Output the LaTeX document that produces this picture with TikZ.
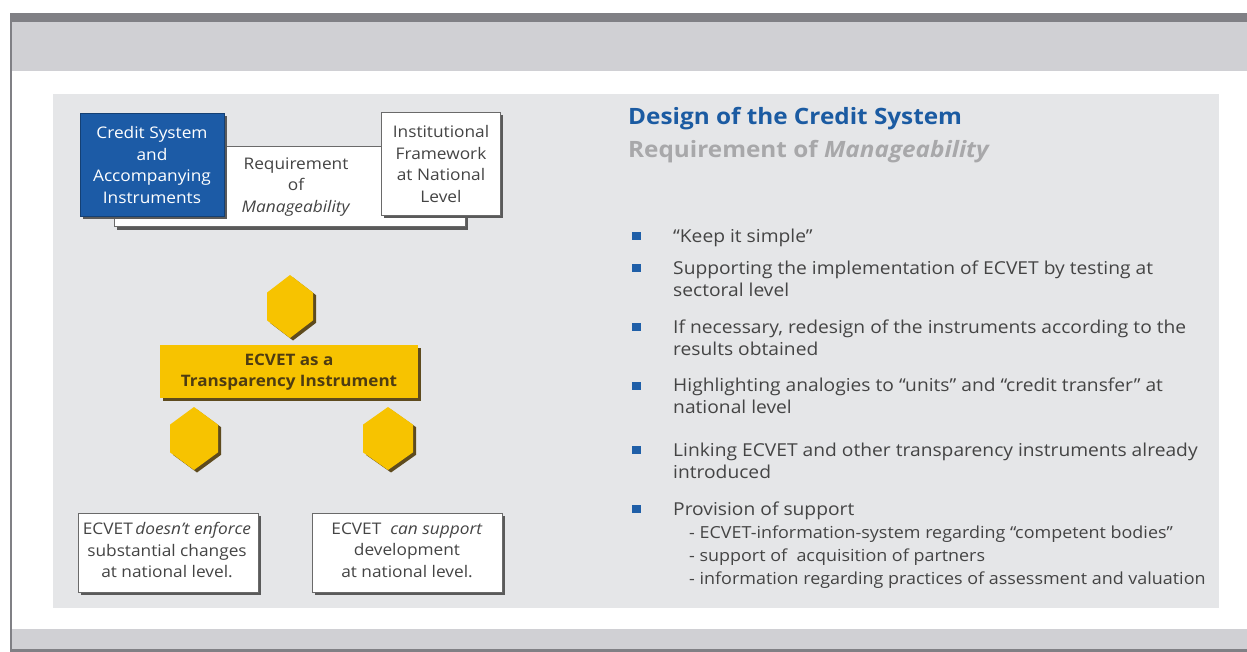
\documentclass[tikz,border=0pt]{standalone}
\usepackage{fontspec}
\setmainfont{Open Sans}[FakeStretch=1.08]
\newcommand{\fl}{\rule{0pt}{18pt}}
\begin{document}
\begin{tikzpicture}[x=1pt,y=-1pt,
  txt/.style={text=textgray, font=\fontsize{16}{21.5}\selectfont, align=center, inner sep=0pt},
  wbox/.style={draw=boxline, line width=1pt, fill=white},
  bul/.style={fill=bulletblue, draw=none, minimum width=9pt, minimum height=8pt, inner sep=0pt},
  btxt/.style={text=textgray, font=\fontsize{17.8}{21.8}\selectfont, anchor=north west, align=left, inner sep=0pt}]
\definecolor{darkbar}{HTML}{808085}
\definecolor{lightbar}{HTML}{D0D0D4}
\definecolor{panel}{HTML}{E5E6E8}
\definecolor{blueb}{HTML}{1C5BA6}
\definecolor{titleblue}{HTML}{1B5BA2}
\definecolor{bulletblue}{HTML}{1F5FA8}
\definecolor{yel}{HTML}{F7C300}
\definecolor{yelshadow}{HTML}{5E4B1E}
\definecolor{yeltext}{HTML}{4E3C12}
\definecolor{shadowgray}{HTML}{5A5A5A}
\definecolor{boxline}{HTML}{6A6A6A}
\definecolor{textgray}{HTML}{444444}
\definecolor{subgray}{HTML}{A8A8AA}
\useasboundingbox (0,0) rectangle (1247,652);
\fill[white] (0,0) rectangle (1247,652);
% frame bands
\fill[darkbar] (10,13) rectangle (1247,22);
\fill[lightbar] (10,22) rectangle (1247,71);
\fill[lightbar] (10,629) rectangle (1247,649);
\fill[darkbar] (10,649) rectangle (1247,652);
\fill[darkbar] (9.5,13) rectangle (11.5,652);
% inner panel
\fill[panel] (53,94) rectangle (1219,608);

% ---------- top-left group ----------
\fill[shadowgray] (117,149) rectangle (468,230);
\node[wbox, minimum width=351pt, minimum height=80pt, anchor=north west, inner sep=0pt] (req) at (114,146) {};
\node[txt, anchor=center] (reqtxt) at (296,187) {Requirement\\of\\\textit{Manageability}};
\fill[shadowgray] (83,116) rectangle (227,219);
\node[fill=blueb, draw=blueb!70!black, line width=0.6pt, minimum width=144pt, minimum height=103pt, anchor=north west, inner sep=0pt] (cs) at (80,113) {};
\node[txt, text=white, anchor=center] (cstxt) at (152,165) {Credit System\\and\\Accompanying\\Instruments};
\fill[shadowgray] (384,115) rectangle (503,218);
\node[wbox, minimum width=119pt, minimum height=103pt, anchor=north west, inner sep=0pt] (inst) at (381,112) {};
\node[txt, anchor=center] (insttxt) at (441,164) {Institutional\\Framework\\at National\\Level};

% ---------- hexagons and yellow bar ----------
\newcommand{\hexpath}[4]{% cx cy halfwidth halfheight
  (#1,#2-#4) -- (#1+#3,#2-0.44*#4) -- (#1+#3,#2+0.44*#4) -- (#1,#2+#4) -- (#1-#3,#2+0.44*#4) -- (#1-#3,#2-0.44*#4) -- cycle}
\fill[yelshadow] \hexpath{293}{309}{23}{31.5};
\fill[yel] \hexpath{290}{306.5}{23}{31.5};
\coordinate (hexTop) at (290,306.5);
\fill[yelshadow] (163,348) rectangle (421,401);
\node[fill=yel, minimum width=258pt, minimum height=53pt, anchor=north west, inner sep=0pt] (ecvet) at (160,345) {};
\node[txt, text=yeltext, font=\bfseries\fontsize{15.8}{21.5}\selectfont, anchor=center] (ecvettxt) at (289,372) {ECVET as a\\Transparency Instrument};
\fill[yelshadow] \hexpath{197}{441}{24}{31.5};
\fill[yel] \hexpath{194}{438.5}{24}{31.5};
\coordinate (hexL) at (194,438.5);
\fill[yelshadow] \hexpath{391}{441}{25}{31.5};
\fill[yel] \hexpath{388}{438.5}{25}{31.5};
\coordinate (hexR) at (388,438.5);

% ---------- bottom boxes ----------
\fill[shadowgray] (81,516) rectangle (261,595);
\node[wbox, minimum width=180pt, minimum height=79pt, anchor=north west, inner sep=0pt] (bl) at (78,513) {};
\node[txt, anchor=center] (bltxt) at (167,550) {ECVET\hspace{2.5pt}\textit{doesn't enforce}\\substantial changes\\at national level.};
\fill[shadowgray] (315,516) rectangle (505,595);
\node[wbox, minimum width=190pt, minimum height=79pt, anchor=north west, inner sep=0pt] (br) at (312,513) {};
\node[txt, anchor=center] (brtxt) at (407,550) {ECVET \ \textit{can support}\\development\\at national level.};

% ---------- right text ----------
\node[anchor=base west, text=titleblue, font=\bfseries\fontsize{22.5}{26}\selectfont, inner sep=0pt] (title) at (628,125) {Design of the Credit System};
\node[anchor=base west, text=subgray, font=\bfseries\fontsize{22.5}{26}\selectfont, inner sep=0pt] (sub) at (628,158) {Requirement of \textit{Manageability}};

\node[bul] (b1) at (636,236) {};
\node[btxt] (t1) at (673,224) {\fl“Keep it simple”};
\node[bul] (b2) at (636,268) {};
\node[btxt] (t2) at (673,256) {\fl Supporting the implementation of ECVET by testing at\\sectoral level};
\node[bul] (b3) at (636,327) {};
\node[btxt] (t3) at (673,315) {\fl If necessary, redesign of the instruments according to the\\results obtained};
\node[bul] (b4) at (636,386) {};
\node[btxt] (t4) at (673,373) {\fl Highlighting analogies to “units” and “credit transfer” at\\national level};
\node[bul] (b5) at (636,450) {};
\node[btxt] (t5) at (673,438) {\fl Linking ECVET and other transparency instruments already\\introduced};
\node[bul] (b6) at (636,509) {};
\node[btxt] (t6) at (673,497) {\fl Provision of support};
\node[btxt, font=\fontsize{16.6}{23}\selectfont] (t6s) at (689,520) {\fl - ECVET-information-system regarding “competent bodies”\\
- support of \ acquisition of partners\\
- information regarding practices of assessment and valuation};
\end{tikzpicture}
\end{document}
